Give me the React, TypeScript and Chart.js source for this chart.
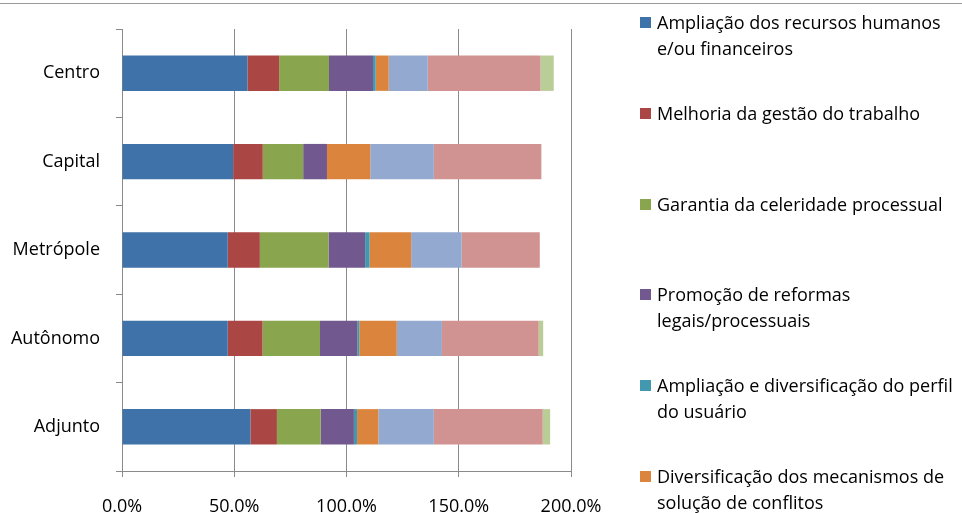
import React, { useEffect, useRef } from "react";
import { Chart, registerables } from "chart.js";

Chart.register(...registerables);

const categories = ["Centro", "Capital", "Metrópole", "Autônomo", "Adjunto"];

const seriesNames = [
  "Ampliação dos recursos humanos e/ou financeiros",
  "Melhoria da gestão do trabalho",
  "Garantia da celeridade processual",
  "Promoção de reformas legais/processuais",
  "Ampliação e diversificação do perfil do usuário",
  "Diversificação dos mecanismos de solução de conflitos",
  "Série 7",
  "Série 8",
  "Série 9",
];

const legendLines = [
  ["Ampliação dos recursos humanos", "e/ou financeiros"],
  ["Melhoria da gestão do trabalho"],
  ["Garantia da celeridade processual"],
  ["Promoção de reformas", "legais/processuais"],
  ["Ampliação e diversificação do perfil", "do usuário"],
  ["Diversificação dos mecanismos de", "solução de conflitos"],
];

const recursos = [55.9, 49.5, 47.1, 47.1, 57.2];
const gestao = [14.1, 13.2, 14.3, 15.5, 11.8];
const celeridade = [22.2, 18.0, 30.6, 25.6, 19.5];
const reformas = [19.6, 10.6, 16.3, 16.6, 14.8];
const perfil = [1.2, 0, 2.0, 0.9, 1.4];
const mecanismos = [5.8, 19.3, 18.5, 16.7, 9.5];
const serie7 = [17.4, 28.3, 22.5, 20.1, 24.7];
const serie8 = [50.2, 47.9, 34.8, 43.1, 48.5];
const serie9 = [5.9, 0, 0, 2.0, 3.3];

const xTicks = [0, 50, 100, 150, 200];

const colors = [
  "#3F72A9",
  "#AA4643",
  "#89A54E",
  "#71588F",
  "#4198AF",
  "#DB843D",
  "#93A9CF",
  "#D19392",
  "#B9CD96",
];

const FONT = "Open Sans";

export default function App() {
  const ref = useRef<HTMLCanvasElement | null>(null);

  useEffect(() => {
    if (!ref.current) return;
    const values = [recursos, gestao, celeridade, reformas, perfil, mecanismos, serie7, serie8, serie9];
    const chart = new Chart(ref.current, {
      type: "bar",
      data: {
        labels: categories,
        datasets: values.map((v, i) => ({
          label: seriesNames[i],
          data: v,
          backgroundColor: colors[i],
          borderWidth: 0,
          barPercentage: 0.4,
          categoryPercentage: 1,
        })),
      },
      options: {
        indexAxis: "y",
        responsive: false,
        maintainAspectRatio: false,
        animation: false,
        layout: { padding: { top: 29, right: 391, left: 0, bottom: 0 } },
        plugins: { legend: { display: false }, tooltip: { enabled: false } },
        scales: {
          x: {
            stacked: true,
            min: 0,
            max: 200,
            afterBuildTicks: (s: any) => {
              s.ticks = xTicks.map((v) => ({ value: v }));
            },
            afterFit: (s: any) => {
              s.height = 42;
            },
            grid: { color: "#8a8a8a", lineWidth: 1, tickLength: 6, drawTicks: true },
            border: { color: "#8a8a8a", width: 1 },
            ticks: {
              color: "#000",
              padding: 19,
              font: { family: FONT, size: 18 },
              callback: (v: any) => Number(v).toFixed(1) + "%",
            },
          },
          y: {
            stacked: true,
            afterFit: (s: any) => {
              s.width = 122;
            },
            grid: { offset: true, drawOnChartArea: false, color: "#8a8a8a", tickLength: 6 },
            border: { color: "#8a8a8a", width: 1 },
            ticks: { color: "#000", padding: 16, font: { family: FONT, size: 18 } },
          },
        },
      },
    });
    return () => chart.destroy();
  }, []);

  return (
    <div style={{ position: "absolute", left: 0, top: 0, width: 962, height: 513, background: "#fff", overflow: "hidden" }}>
      <div style={{ position: "absolute", left: 0, top: 3, width: 962, height: 1, background: "#9a9a9a" }} />
      <canvas ref={ref} width={962} height={513} style={{ position: "absolute", left: 0, top: 0, width: 962, height: 513 }} />
      {legendLines.map((lines, i) => (
        <div key={i} style={{ position: "absolute", left: 640, top: 10 + i * 90.8, fontFamily: FONT, fontSize: 18, lineHeight: "25.7px", color: "#000" }}>
          <div style={{ position: "absolute", left: 0, top: 7, width: 11, height: 11, background: colors[i] }} />
          {lines.map((t, j) => (
            <div key={j} style={{ marginLeft: 17, whiteSpace: "nowrap" }}>{t}</div>
          ))}
        </div>
      ))}
    </div>
  );
}
